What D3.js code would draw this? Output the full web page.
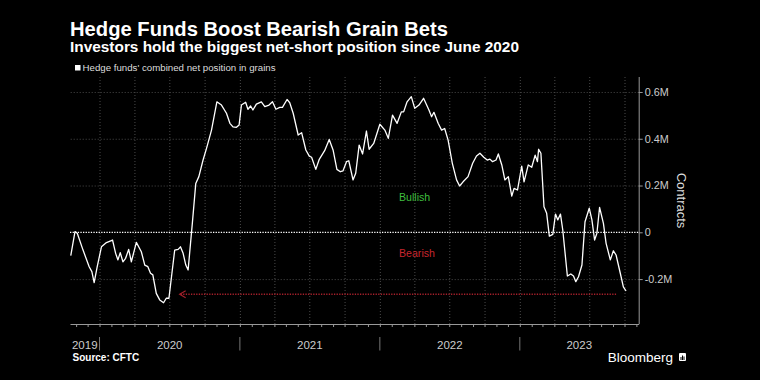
<!DOCTYPE html>
<html><head><meta charset="utf-8">
<script src="https://cdn.jsdelivr.net/npm/d3@7"></script>
<style>html,body{margin:0;padding:0;background:#000;} svg{display:block;}</style>
</head><body>
<svg id="chart" width="760" height="380"></svg>
<script>
// ---------- DATA ----------
const titleText = "Hedge Funds Boost Bearish Grain Bets";
const subtitleText = "Investors hold the biggest net-short position since June 2020";
const legendText = "Hedge funds' combined net position in grains";
const sourceText = "Source: CFTC";
const axisTitle = "Contracts";

// Combined net position (thousand contracts)
const dates = [
"2019-10-18","2019-10-29","2019-11-04","2019-11-19","2019-12-05","2019-12-12","2019-12-18","2019-12-26",
"2020-01-06","2020-01-19","2020-02-04","2020-02-12","2020-02-18","2020-02-24","2020-03-02","2020-03-09","2020-03-17","2020-03-24",
"2020-04-06","2020-04-19","2020-04-28","2020-05-06","2020-05-13","2020-05-19","2020-05-28","2020-06-06","2020-06-16","2020-06-23",
"2020-06-30","2020-07-15","2020-07-24","2020-07-30","2020-08-06","2020-08-13","2020-08-19","2020-08-30","2020-09-08","2020-09-16",
"2020-09-27","2020-10-06","2020-10-19","2020-11-02","2020-11-14","2020-11-27","2020-12-06","2020-12-14","2020-12-23","2020-12-30",
"2021-01-05","2021-01-16","2021-01-22","2021-01-29","2021-02-04","2021-02-13","2021-02-26","2021-03-07","2021-03-18","2021-03-27",
"2021-04-05","2021-04-15","2021-04-22","2021-05-04","2021-05-11","2021-05-20","2021-06-02","2021-06-11","2021-06-22","2021-07-01",
"2021-07-07","2021-07-18","2021-07-27","2021-08-10","2021-08-22","2021-09-01","2021-09-11","2021-09-20","2021-09-27","2021-10-06",
"2021-10-12","2021-10-23","2021-10-30","2021-11-08","2021-11-17","2021-11-27","2021-12-04","2021-12-16",
"2022-01-01","2022-01-14","2022-01-23","2022-02-03","2022-02-15","2022-02-26","2022-03-04","2022-03-13","2022-03-24","2022-04-02",
"2022-04-13","2022-04-25","2022-05-09","2022-05-16","2022-05-22","2022-06-02","2022-06-11","2022-06-19","2022-06-28","2022-07-09",
"2022-07-20","2022-07-28","2022-08-06","2022-08-19","2022-08-31","2022-09-10","2022-09-19","2022-09-29","2022-10-08","2022-10-15",
"2022-10-22","2022-10-31","2022-11-06","2022-11-15","2022-11-23","2022-12-02","2022-12-11","2022-12-17","2022-12-26",
"2023-01-06","2023-01-12","2023-01-23","2023-02-01","2023-02-10","2023-02-16","2023-02-19","2023-02-25","2023-03-05","2023-03-12",
"2023-03-19","2023-03-28","2023-04-04","2023-04-10","2023-04-17","2023-04-23","2023-05-05","2023-05-14","2023-05-21","2023-05-27",
"2023-06-03","2023-06-12","2023-06-20","2023-07-01","2023-07-08","2023-07-15","2023-07-21","2023-07-28","2023-08-07","2023-08-14",
"2023-08-25","2023-09-02","2023-09-09","2023-09-20","2023-09-28","2023-10-05"];
const netPosition = [
-100,3,-4,-76,-147,-168,-215,-147,
-62,-44,-33,-90,-118,-87,-126,-111,-73,-126,
-43,-83,-140,-147,-175,-182,-261,-289,-301,-282,
-282,-76,-73,-62,-90,-140,-161,38,209,238,
309,359,437,558,544,509,466,451,449,459,
544,556,526,540,523,548,558,537,544,558,
526,534,534,568,554,509,416,426,352,326,
321,269,312,349,397,352,269,259,263,302,
306,224,252,373,335,433,355,380,
462,437,402,501,466,515,515,558,580,530,
544,573,523,494,513,466,437,444,394,295,
224,198,216,238,295,326,338,321,309,313,
302,309,335,288,224,238,155,188,181,
283,216,288,278,330,302,355,338,109,81,
-16,-9,78,53,78,10,-187,-178,-187,-211,
-190,-140,45,103,53,-33,-4,107,38,-47,
-118,-79,-97,-175,-233,-251];

const yTicks = [-200, 0, 200, 400, 600];
const yTickLabels = ["-0.2M", "0", "0.2M", "0.4M", "0.6M"];
const yearLabels = ["2019", "2020", "2021", "2022", "2023"];
const xDomain = ["2019-10-16", "2023-11-07"];
const yDomain = [-392, 664];
const arrowSpan = ["2023-09-09", "2020-07-28"];
const arrowLevel = -265;
const zoneLabels = [{text: "Bullish", value: 135, date: "2022-02-20"}, {text: "Bearish", value: -104, date: "2022-02-20"}];

// ---------- CHART ----------
const parse = d3.timeParse("%Y-%m-%d");
const FONT = "'Liberation Sans', Arial, sans-serif";
const svg = d3.select("#chart");
svg.append("rect").attr("width", 760).attr("height", 380).attr("fill", "#000");

const L = 70, R = 638.7, T = 77, B = 324;
const x = d3.scaleTime().domain(xDomain.map(parse)).range([L, R]);
const y = d3.scaleLinear().domain(yDomain).range([B, T]);

// Title & subtitle
svg.append("text").attr("x", 70).attr("y", 35.5).text(titleText)
  .attr("fill", "#fff").attr("font-family", FONT).attr("font-weight", "bold").attr("font-size", 20.2);
svg.append("text").attr("x", 70).attr("y", 52).text(subtitleText)
  .attr("fill", "#fff").attr("font-family", FONT).attr("font-weight", "bold").attr("font-size", 15.4);

// Legend
svg.append("rect").attr("x", 75).attr("y", 65).attr("width", 5.5).attr("height", 5.5).attr("fill", "#fff");
svg.append("text").attr("x", 82.5).attr("y", 71).text(legendText)
  .attr("fill", "#ddd").attr("font-family", FONT).attr("font-size", 9.7);

// Horizontal grid
const hGrid = svg.append("g").attr("transform", `translate(${R},0)`)
  .call(d3.axisRight(y).tickValues(yTicks.filter(v => v !== 0)).tickSize(-(R - L)).tickFormat(""));
hGrid.select(".domain").remove();
hGrid.selectAll("line").attr("stroke", "#4a4a4a").attr("stroke-dasharray", "1,2");

// Vertical grid (quarterly)
const vGrid = svg.append("g").attr("transform", `translate(0,${B})`)
  .call(d3.axisBottom(x).ticks(d3.timeMonth.every(3)).tickSize(-(B - T)).tickFormat(""));
vGrid.select(".domain").remove();
vGrid.selectAll("line").attr("stroke", "#4a4a4a").attr("stroke-dasharray", "1,2");

// Bottom axis with monthly ticks
const xAxis = svg.append("g").attr("transform", `translate(0,${B})`)
  .call(d3.axisBottom(x).ticks(d3.timeMonth.every(1)).tickSize(3).tickSizeOuter(0).tickFormat(""));
xAxis.select(".domain").attr("stroke", "#999");
xAxis.selectAll("line").attr("stroke", "#999");

// Right axis
const yAxis = svg.append("g").attr("transform", `translate(${R},0)`)
  .call(d3.axisRight(y).tickValues(yTicks).tickSize(4).tickSizeOuter(0)
    .tickFormat((d, i) => yTickLabels[yTicks.indexOf(d)]));
yAxis.select(".domain").attr("stroke", "#999").attr("d", `M0.5,${T}V${B}`);
yAxis.selectAll("line").attr("stroke", "#999");
yAxis.selectAll("text").attr("fill", "#ccc").attr("font-family", FONT).attr("font-size", 10.8).attr("x", 6);

svg.append("text").attr("transform", `translate(677,200.5) rotate(90)`).attr("text-anchor", "middle")
  .text(axisTitle).attr("fill", "#ddd").attr("font-family", FONT).attr("font-size", 13);

// Year labels and separators
const [d0, d1] = x.domain();
yearLabels.forEach(yr => {
  const s = new Date(+yr, 0, 1), e = new Date(+yr + 1, 0, 1);
  const a = s < d0 ? d0 : s, b = e > d1 ? d1 : e;
  svg.append("text").attr("x", (x(a) + x(b)) / 2).attr("y", 348.5).attr("text-anchor", "middle")
    .text(yr).attr("fill", "#ccc").attr("font-family", FONT).attr("font-size", 11.5);
  if (s > d0) {
    svg.append("line").attr("x1", x(s)).attr("x2", x(s)).attr("y1", 337).attr("y2", 350.5)
      .attr("stroke", "#777").attr("stroke-width", 1);
  }
});

// Zero line
svg.append("line").attr("x1", L).attr("x2", R).attr("y1", y(0)).attr("y2", y(0))
  .attr("stroke", "#fff").attr("stroke-width", 1.3).attr("stroke-dasharray", "1.3,1.3");

// Zone labels
zoneLabels.forEach((z, i) => {
  svg.append("text").attr("x", x(parse(z.date))).attr("y", y(z.value)).text(z.text)
    .attr("fill", i === 0 ? "#3fbf3f" : "#c8262e").attr("font-family", FONT).attr("font-size", 10.6);
});

// Red arrow
const ay = y(arrowLevel);
const ax1 = x(parse(arrowSpan[0])), ax0 = x(parse(arrowSpan[1]));
svg.append("line").attr("x1", ax1).attr("x2", ax0 + 1).attr("y1", ay).attr("y2", ay)
  .attr("stroke", "#a5202b").attr("stroke-width", 1.4).attr("stroke-dasharray", "1.3,1.3");
svg.append("path").attr("d", `M${ax0 + 6},${ay - 3.5}L${ax0},${ay}L${ax0 + 6},${ay + 3.5}`)
  .attr("fill", "none").attr("stroke", "#a5202b").attr("stroke-width", 1.2);

// Line
const pts = dates.map((d, i) => ({date: parse(d), v: netPosition[i]}));
svg.append("path").datum(pts)
  .attr("d", d3.line().x(d => x(d.date)).y(d => y(d.v)))
  .attr("fill", "none").attr("stroke", "#fff").attr("stroke-width", 1.3).attr("stroke-linejoin", "round");

// Footer
svg.append("text").attr("x", 72.5).attr("y", 361).text(sourceText)
  .attr("fill", "#fff").attr("font-family", FONT).attr("font-weight", "bold").attr("font-size", 10);
svg.append("text").attr("x", 673).attr("y", 362).attr("text-anchor", "end").text("Bloomberg")
  .attr("fill", "#fff").attr("font-family", FONT).attr("font-size", 13.5);
const logo = svg.append("g").attr("transform", "translate(679,353)");
logo.append("rect").attr("width", 7).attr("height", 8).attr("rx", 1).attr("fill", "#fff");
[[1.5, 4, 1, 3], [3, 2.5, 1, 4.5], [4.5, 3.5, 1, 3.5]].forEach(b =>
  logo.append("rect").attr("x", b[0]).attr("y", b[1]).attr("width", b[2]).attr("height", b[3]).attr("fill", "#000"));
</script>
</body></html>
